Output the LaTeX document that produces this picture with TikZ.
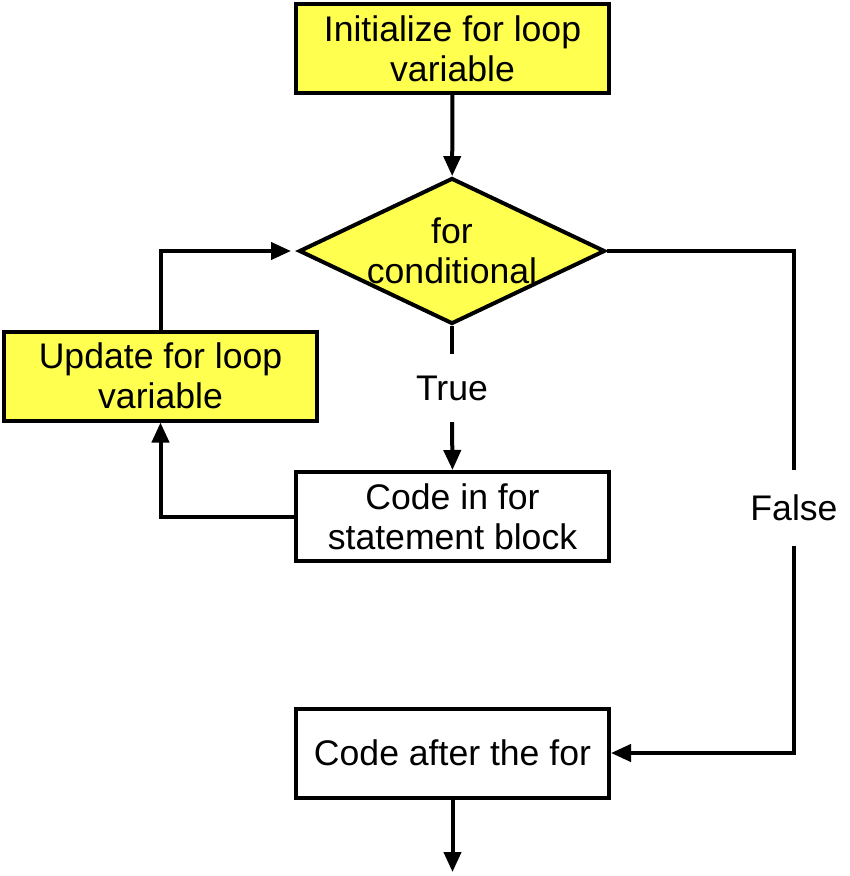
\documentclass[tikz,border=0pt]{standalone}
\usepackage{fontspec}
\setmainfont{Liberation Sans}
\usepackage{tikz}
\usetikzlibrary{arrows.meta,shapes.geometric,positioning}
\usepackage{xcolor}
\definecolor{fcyellow}{RGB}{255,255,80}
\tikzstyle{arrow} = [line width=4pt,-{Triangle[length=20pt,width=17pt]}]
\tikzstyle{line} = [line width=4pt]
\tikzstyle{yellowbox} = [rectangle, minimum width=313pt, minimum height=89pt, text centered, align=center, draw=black, fill=fcyellow, line width=4pt, font=\fontsize{35.6pt}{40pt}\selectfont]
\tikzstyle{whitebox} = [rectangle, minimum width=313pt, minimum height=89pt, text centered, align=center, draw=black, fill=white, line width=4pt, font=\fontsize{35.6pt}{40pt}\selectfont]
\tikzstyle{decisionbox} = [diamond, aspect=2.2, minimum width=306pt, minimum height=146pt, inner sep=-20pt, text centered, align=center, draw=black, fill=fcyellow, line width=4pt, font=\fontsize{35.6pt}{40pt}\selectfont]
\tikzstyle{branchlabel} = [inner xsep=0pt, font=\fontsize{35.6pt}{40pt}\selectfont]

\begin{document}
\begin{tikzpicture}[x=1pt, y=-1pt]
\useasboundingbox (0,0) rectangle (850,876);

% Initialize
\node[yellowbox] (init) at (452.5, 48.5) {Initialize for loop\\variable};

% Condition
\node[decisionbox] (cond) at (452, 251) {for\\conditional};

% Update
\node[yellowbox] (update) at (160.5, 376) {Update for loop\\variable};

% Loop body
\node[whitebox] (body) at (452.5, 516.5) {Code in for\\statement block};

% After the loop
\node[whitebox] (after) at (452.5, 753) {Code after the for};

% Branch labels
\node[branchlabel, inner ysep=21.5pt] (true) at (452, 388) {True};
\node[branchlabel, inner ysep=24.5pt] (false) at (794, 508) {False};
\coordinate (exit) at (452.5, 872);

% Connectors
\draw[arrow] (init) -- (cond);
\draw[line] (cond.south) -- (true.north);
\draw[arrow] (true.south) -- (body.north);
\draw[arrow] (body.west) -| (update.south);
\draw[arrow, shorten >=6pt] (update.north) |- (cond.west);
\draw[line] (cond.east) -| (false.north);
\draw[arrow] (false.south) |- (after.east);
\draw[arrow] (after.south) -- (exit);
\end{tikzpicture}
\end{document}
